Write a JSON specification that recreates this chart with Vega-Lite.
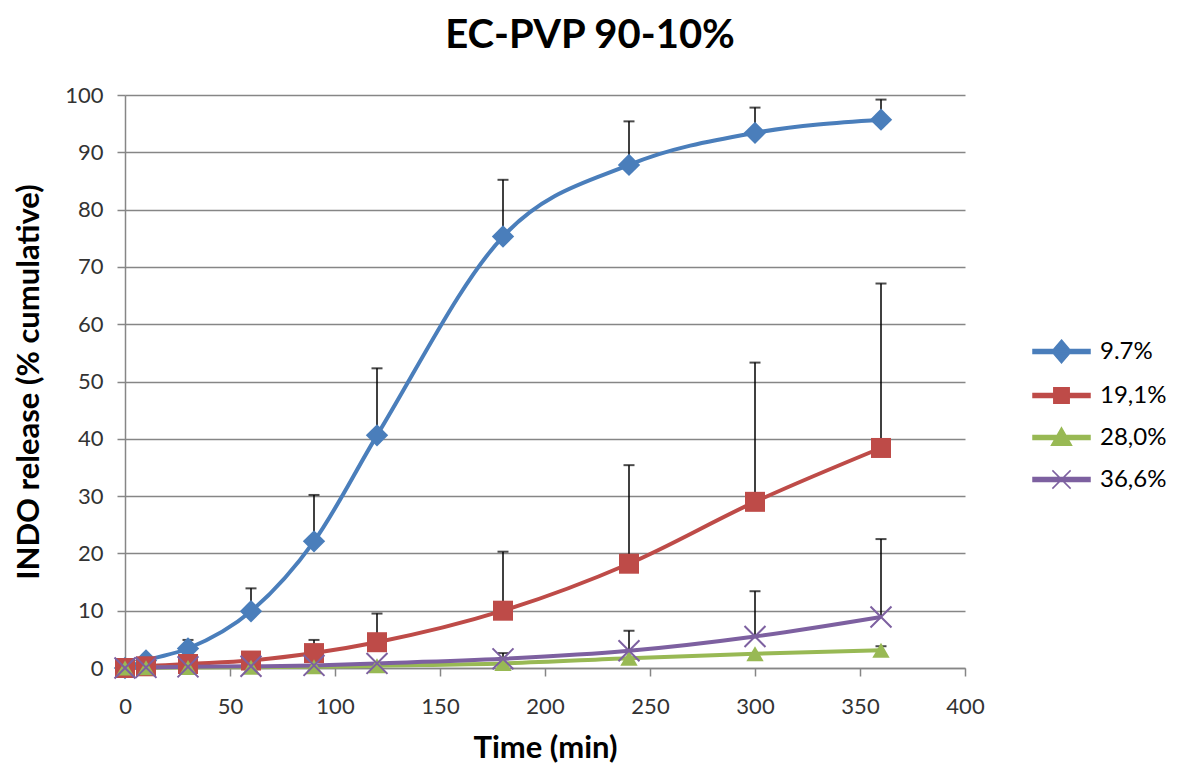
{
  "$schema": "https://vega.github.io/schema/vega-lite/v6.json",
  "width": 840,
  "height": 573,
  "autosize": {"type": "none"},
  "padding": {"left": 125, "top": 95, "right": 215, "bottom": 101},
  "background": "white",
  "title": {"text": "EC-PVP 90-10%", "font": "Lato", "fontSize": 40, "fontWeight": "bold", "color": "#000000", "anchor": "middle", "dx": 45, "offset": 8, "baseline": "middle"},
  "config": {
    "view": {"stroke": null},
    "axis": {"labelFont": "Lato", "labelFontSize": 22, "labelColor": "#333333", "titleFont": "Lato", "titleFontSize": 31, "titleFontWeight": "bold", "titleColor": "#000000", "domainColor": "#868686", "tickColor": "#868686", "gridColor": "#868686", "domainWidth": 1.5, "tickWidth": 1.5, "gridWidth": 1.5}
  },
  "data": {"values": [
    {"time": 0, "series": "9.7%", "value": 0},
    {"time": 10, "series": "9.7%", "value": 1.3},
    {"time": 30, "series": "9.7%", "value": 3.4, "upper": 4.9},
    {"time": 60, "series": "9.7%", "value": 9.9, "upper": 13.9},
    {"time": 90, "series": "9.7%", "value": 22.1, "upper": 30.2},
    {"time": 120, "series": "9.7%", "value": 40.6, "upper": 52.3},
    {"time": 180, "series": "9.7%", "value": 75.3, "upper": 85.2},
    {"time": 240, "series": "9.7%", "value": 87.8, "upper": 95.4},
    {"time": 300, "series": "9.7%", "value": 93.4, "upper": 97.8},
    {"time": 360, "series": "9.7%", "value": 95.7, "upper": 99.2},
    {"time": 0, "series": "19,1%", "value": 0},
    {"time": 10, "series": "19,1%", "value": 0.3},
    {"time": 30, "series": "19,1%", "value": 0.7},
    {"time": 60, "series": "19,1%", "value": 1.3, "upper": 1.8},
    {"time": 90, "series": "19,1%", "value": 2.6, "upper": 4.9},
    {"time": 120, "series": "19,1%", "value": 4.5, "upper": 9.5},
    {"time": 180, "series": "19,1%", "value": 10.0, "upper": 20.3},
    {"time": 240, "series": "19,1%", "value": 18.2, "upper": 35.4},
    {"time": 300, "series": "19,1%", "value": 29.0, "upper": 53.3},
    {"time": 360, "series": "19,1%", "value": 38.4, "upper": 67.1},
    {"time": 0, "series": "28,0%", "value": 0},
    {"time": 10, "series": "28,0%", "value": 0.05},
    {"time": 30, "series": "28,0%", "value": 0.1},
    {"time": 60, "series": "28,0%", "value": 0.15},
    {"time": 90, "series": "28,0%", "value": 0.2},
    {"time": 120, "series": "28,0%", "value": 0.4},
    {"time": 180, "series": "28,0%", "value": 0.8},
    {"time": 240, "series": "28,0%", "value": 1.7},
    {"time": 300, "series": "28,0%", "value": 2.5},
    {"time": 360, "series": "28,0%", "value": 3.1, "upper": 3.8},
    {"time": 0, "series": "36,6%", "value": 0},
    {"time": 10, "series": "36,6%", "value": 0.1},
    {"time": 30, "series": "36,6%", "value": 0.2},
    {"time": 60, "series": "36,6%", "value": 0.3},
    {"time": 90, "series": "36,6%", "value": 0.45},
    {"time": 120, "series": "36,6%", "value": 0.8},
    {"time": 180, "series": "36,6%", "value": 1.6, "upper": 2.6},
    {"time": 240, "series": "36,6%", "value": 3.0, "upper": 6.5},
    {"time": 300, "series": "36,6%", "value": 5.5, "upper": 13.4},
    {"time": 360, "series": "36,6%", "value": 8.9, "upper": 22.5}
  ]},
  "encoding": {
    "x": {"field": "time", "type": "quantitative", "scale": {"domain": [0, 400], "nice": false, "zero": false},
      "axis": {"title": "Time (min)", "values": [0, 50, 100, 150, 200, 250, 300, 350, 400], "grid": false, "tickSize": 8, "labelPadding": 20, "titlePadding": 16, "labelFlush": false}},
    "y": {"field": "value", "type": "quantitative", "scale": {"domain": [0, 100], "nice": false},
      "axis": {"title": "INDO release (% cumulative)", "values": [0, 10, 20, 30, 40, 50, 60, 70, 80, 90, 100], "grid": true, "tickSize": 8, "labelPadding": 14, "titlePadding": 19, "labelFlush": false}}
  },
  "layer": [
    {
      "transform": [{"filter": "isValid(datum.upper)"}],
      "mark": {"type": "rule", "color": "#000000", "strokeWidth": 1.5},
      "encoding": {"y2": {"field": "upper"}}
    },
    {
      "transform": [{"filter": "isValid(datum.upper)"}],
      "mark": {"type": "tick", "color": "#000000", "orient": "horizontal", "thickness": 2, "size": 11},
      "encoding": {"y": {"field": "upper", "type": "quantitative"}}
    },
    {
      "mark": {"type": "line", "strokeWidth": 4, "interpolate": "monotone"},
      "encoding": {
        "color": {"field": "series", "type": "nominal",
          "scale": {"domain": ["9.7%", "19,1%", "28,0%", "36,6%"], "range": ["#4A7EBB", "#BE4B48", "#98B954", "#7D60A0"]},
          "legend": {
            "title": null, "orient": "none", "legendX": 907, "legendY": 227, "padding": 0,
            "labelFont": "Lato", "labelFontSize": 24, "labelColor": "#000000", "labelOffset": 9,
            "symbolSize": 3249, "rowPadding": 0, "symbolStrokeWidth": 1.5,
            "encode": {"symbols": {"update": {
              "shape": {"signal": "datum.value === '9.7%' ? 'M-1,-0.07H1V0.07H-1ZM0,-0.4L0.34,0L0,0.4L-0.34,0Z' : datum.value === '19,1%' ? 'M-1,-0.07H1V0.07H-1ZM-0.27,-0.27H0.27V0.27H-0.27Z' : datum.value === '28,0%' ? 'M-1,-0.07H1V0.07H-1ZM0,-0.34L0.35,0.27H-0.35Z' : 'M-1,-0.07H1V0.07H-1ZM-0.32,-0.32L0.32,0.32M-0.32,0.32L0.32,-0.32'"},
              "fill": {"signal": "datum.value === '9.7%' ? '#4A7EBB' : datum.value === '19,1%' ? '#BE4B48' : datum.value === '28,0%' ? '#98B954' : '#7D60A0'"},
              "stroke": {"signal": "datum.value === '9.7%' ? '#4A7EBB' : datum.value === '19,1%' ? '#BE4B48' : datum.value === '28,0%' ? '#98B954' : '#7D60A0'"},
              "strokeWidth": {"value": 1.5},
              "opacity": {"value": 1},
              "fillOpacity": {"value": 1},
              "strokeOpacity": {"value": 1}
            }}}
          }}
      }
    },
    {
      "transform": [{"filter": "datum.series !== '36,6%'"}],
      "mark": {"type": "point", "filled": true, "opacity": 1},
      "encoding": {
        "color": {"field": "series", "type": "nominal", "legend": null},
        "shape": {"field": "series", "type": "nominal", "legend": null,
          "scale": {"domain": ["9.7%", "19,1%", "28,0%"], "range": ["diamond", "square", "triangle-up"]}},
        "size": {"field": "series", "type": "nominal", "legend": null,
          "scale": {"domain": ["9.7%", "19,1%", "28,0%"], "range": [500, 300, 430]}}
      }
    },
    {
      "transform": [{"filter": "datum.series === '36,6%'"}],
      "mark": {"type": "point", "filled": false, "opacity": 1, "size": 440, "strokeWidth": 2, "shape": "M-1,-1L1,1M-1,1L1,-1"},
      "encoding": {
        "color": {"field": "series", "type": "nominal", "legend": null}
      }
    }
  ]
}
